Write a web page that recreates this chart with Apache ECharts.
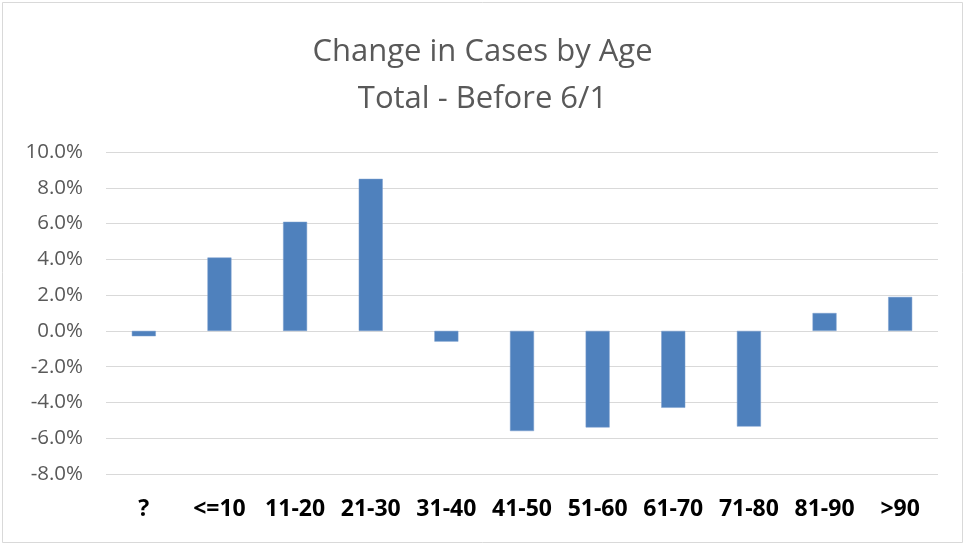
<!DOCTYPE html>
<html>
<head>
<meta charset="utf-8">
<script src="https://cdn.jsdelivr.net/npm/echarts@6/dist/echarts.min.js"></script>
<style>
  html, body { margin: 0; padding: 0; background: #fff; }
  #chart { width: 965px; height: 545px; }
</style>
</head>
<body>
<div id="chart"></div>
<script>
// age groups and change in share of cases (%)
const ageGroups = ['?', '<=10', '11-20', '21-30', '31-40', '41-50', '51-60', '61-70', '71-80', '81-90', '>90']
const changePct = [-0.3, 4.1, 6.1, 8.5, -0.6, -5.6, -5.4, -4.3, -5.35, 1.0, 1.9]
const yMin = -8
const yMax = 10
const yStep = 2

const chart = echarts.init(document.getElementById('chart'))

const option = {
  backgroundColor: '#fff',
  animation: false,
  textStyle: { fontFamily: 'Open Sans' },
  title: {
    text: 'Change in Cases by Age\nTotal - Before 6/1',
    left: 'center',
    top: 24,
    textStyle: {
      fontFamily: 'Open Sans',
      fontSize: 31,
      fontWeight: 'normal',
      color: '#595959',
      lineHeight: 47
    }
  },
  graphic: [{
    type: 'rect',
    shape: { x: 2.5, y: 2.5, width: 960, height: 540 },
    style: { fill: 'none', stroke: '#d9d9d9', lineWidth: 1 },
    silent: true
  }],
  grid: {
    left: 106,
    right: 27,
    top: 152,
    bottom: 71
  },
  xAxis: {
    type: 'category',
    data: ageGroups,
    axisLine: { show: false },
    axisTick: { show: false },
    axisLabel: {
      color: '#000',
      fontWeight: 'bold',
      fontSize: 23,
      margin: 24,
      interval: 0
    }
  },
  yAxis: {
    type: 'value',
    min: yMin,
    max: yMax,
    interval: yStep,
    axisLine: { show: false },
    axisTick: { show: false },
    splitLine: { lineStyle: { color: '#d9d9d9', width: 1 } },
    axisLabel: {
      color: '#595959',
      fontSize: 20.5,
      margin: 23,
      formatter: v => v.toFixed(1) + '%'
    }
  },
  series: [{
    type: 'bar',
    data: changePct,
    barWidth: 24,
    itemStyle: {
      color: '#4F81BD',
      borderColor: '#7a9fcf',
      borderWidth: 0.5
    }
  }]
}

chart.setOption(option)
window.addEventListener('resize', function () {
  chart.resize()
})
</script>
</body>
</html>
